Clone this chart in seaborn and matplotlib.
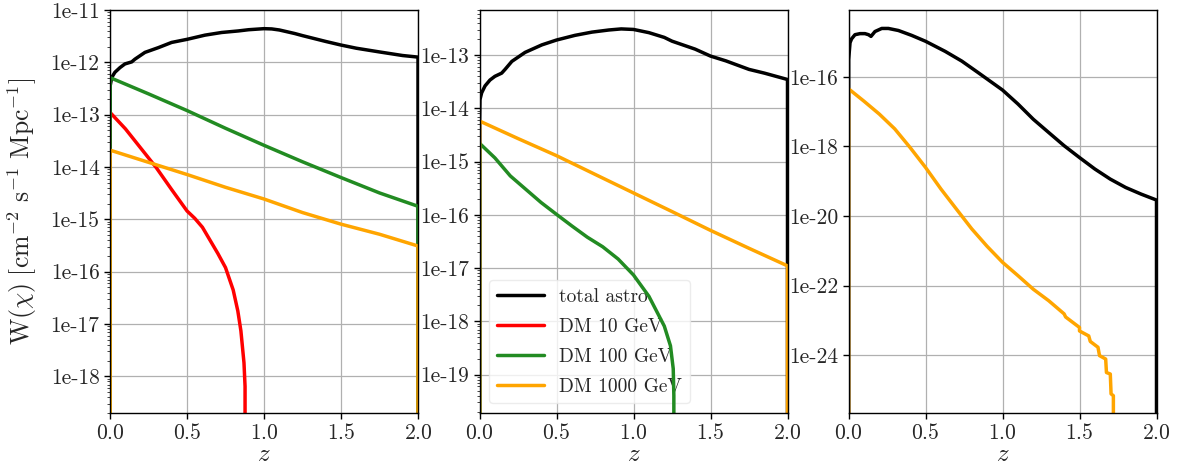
import numpy as np
import pandas as pd
import matplotlib
matplotlib.use("Agg")
import matplotlib.pyplot as plt
from matplotlib.lines import Line2D
from matplotlib.ticker import FuncFormatter, NullFormatter
import seaborn as sns

# ---- data (W in cm^-2 s^-1 Mpc^-1) ----
# panel 1
z_p1_astro = [0, 0.001, 0.011, 0.032, 0.065, 0.097, 0.141, 0.162, 0.227, 0.314, 0.40, 0.50, 0.617,
              0.725, 0.833, 0.9, 1.0, 1.05, 1.1, 1.2, 1.25, 1.4, 1.5, 1.6, 1.75, 1.9, 2.0, 2.0]
W_p1_astro = [0, 3.55e-13, 5.13e-13, 6.46e-13, 7.94e-13, 9.33e-13, 1.02e-12, 1.15e-12, 1.55e-12,
              1.91e-12, 2.40e-12, 2.75e-12, 3.31e-12, 3.72e-12, 3.98e-12, 4.2e-12, 4.4e-12, 4.35e-12,
              4.15e-12, 3.55e-12, 3.24e-12, 2.51e-12, 2.14e-12, 1.86e-12, 1.58e-12, 1.35e-12, 1.26e-12, 0]
z_p1_dm10 = [0, 0.001, 0.1, 0.2, 0.3, 0.4, 0.5, 0.55, 0.6, 0.65, 0.7, 0.75, 0.8, 0.83, 0.85, 0.87, 0.877, 0.881]
W_p1_dm10 = [0, 1.10e-13, 5.37e-14, 2.29e-14, 9.77e-15, 3.72e-15, 1.45e-15, 1.05e-15, 7.08e-16,
             3.98e-16, 2.24e-16, 1.20e-16, 4.47e-17, 1.78e-17, 7.41e-18, 1.82e-18, 6.46e-19, 0]
z_p1_dm100 = [0, 0.001, 0.25, 0.5, 0.75, 1.0, 1.25, 1.5, 1.75, 2.0, 2.0]
W_p1_dm100 = [0, 5.1e-13, 2.5e-13, 1.2e-13, 5.5e-14, 2.6e-14, 1.26e-14, 6.3e-15, 3.2e-15, 1.78e-15, 0]
z_p1_dm1000 = [0, 0.001, 0.25, 0.5, 0.75, 1.0, 1.25, 1.5, 1.75, 2.0, 2.0]
W_p1_dm1000 = [0, 2.1e-14, 1.23e-14, 7.2e-15, 4.1e-15, 2.45e-15, 1.35e-15, 8.1e-16, 5.2e-16, 3.1e-16, 0]

# panel 2
z_p2_astro = [0, 0.001, 0.003, 0.014, 0.036, 0.068, 0.10, 0.144, 0.166, 0.21, 0.296, 0.405, 0.50,
              0.62, 0.73, 0.84, 0.92, 1.0, 1.1, 1.2, 1.25, 1.4, 1.5, 1.6, 1.75, 1.85, 2.0, 2.0]
W_p2_astro = [0, 6.17e-15, 1.45e-14, 1.95e-14, 2.63e-14, 3.39e-14, 3.98e-14, 4.57e-14, 5.37e-14,
              7.59e-14, 1.12e-13, 1.55e-13, 1.91e-13, 2.34e-13, 2.69e-13, 2.95e-13, 3.09e-13, 3.02e-13,
              2.63e-13, 2.14e-13, 1.82e-13, 1.29e-13, 9.55e-14, 7.76e-14, 5.37e-14, 4.57e-14, 3.47e-14, 0]
z_p2_dm100 = [0, 0.001, 0.1, 0.2, 0.3, 0.4, 0.5, 0.6, 0.7, 0.8, 0.9, 1.0, 1.1, 1.15, 1.2, 1.24,
              1.258, 1.262, 1.266]
W_p2_dm100 = [0, 2.19e-15, 1.17e-15, 5.37e-16, 3.02e-16, 1.70e-16, 1.02e-16, 6.17e-17, 3.80e-17,
              2.51e-17, 1.48e-17, 7.41e-18, 2.95e-18, 1.55e-18, 8.13e-19, 3.47e-19, 1.29e-19, 4.07e-20, 0]
z_p2_dm1000 = [0, 0.001, 0.25, 0.5, 0.75, 1.0, 1.25, 1.5, 1.75, 2.0, 2.0]
W_p2_dm1000 = [0, 5.75e-15, 2.7e-15, 1.29e-15, 5.75e-16, 2.57e-16, 1.15e-16, 5.1e-17, 2.35e-17, 1.1e-17, 0]

# panel 3
z_p3_astro = [0, 0.001, 0.01, 0.02, 0.042, 0.075, 0.107, 0.13, 0.146, 0.172, 0.216, 0.259, 0.324,
              0.41, 0.50, 0.628, 0.736, 0.845, 1.0, 1.1, 1.2, 1.3, 1.4, 1.5, 1.6, 1.7, 1.8, 1.9, 2.0, 2.0]
W_p3_astro = [0, 3.16e-16, 9.55e-16, 1.23e-15, 1.62e-15, 1.74e-15, 1.74e-15, 1.62e-15, 1.45e-15,
              2.00e-15, 2.45e-15, 2.45e-15, 2.14e-15, 1.55e-15, 1.05e-15, 5.37e-16, 2.82e-16, 1.29e-16,
              4.17e-17, 1.66e-17, 6.03e-18, 2.51e-18, 1.05e-18, 4.79e-19, 2.24e-19, 1.15e-19, 6.61e-20,
              4.27e-20, 2.88e-20, 0]
z_p3_dm1000 = [0, 0.001, 0.1, 0.2, 0.3, 0.4, 0.5, 0.6, 0.7, 0.8, 0.9, 1.0, 1.1, 1.2, 1.3, 1.4,
               1.41, 1.5, 1.5, 1.56, 1.57, 1.62, 1.63, 1.67, 1.675, 1.7, 1.705, 1.72, 1.72]
W_p3_dm1000 = [0, 4.5e-17, 2.0e-17, 8.5e-18, 3.2e-18, 9.3e-19, 2.5e-19, 6.0e-20, 1.6e-20, 4.3e-21,
               1.35e-21, 4.7e-22, 1.95e-22, 7.9e-23, 3.7e-23, 1.55e-23, 1.26e-23, 6.3e-24, 5.0e-24,
               3.6e-24, 2.5e-24, 1.7e-24, 9.8e-25, 7.8e-25, 3.2e-25, 2.9e-25, 7.8e-26, 6.9e-26, 0]

labels = ["total astro", "DM 10 GeV", "DM 100 GeV", "DM 1000 GeV"]
colors = {"total astro": "black", "DM 10 GeV": "red", "DM 100 GeV": "forestgreen", "DM 1000 GeV": "orange"}

panels = [
    {"total astro": (z_p1_astro, W_p1_astro), "DM 10 GeV": (z_p1_dm10, W_p1_dm10),
     "DM 100 GeV": (z_p1_dm100, W_p1_dm100), "DM 1000 GeV": (z_p1_dm1000, W_p1_dm1000)},
    {"total astro": (z_p2_astro, W_p2_astro), "DM 100 GeV": (z_p2_dm100, W_p2_dm100),
     "DM 1000 GeV": (z_p2_dm1000, W_p2_dm1000)},
    {"total astro": (z_p3_astro, W_p3_astro), "DM 1000 GeV": (z_p3_dm1000, W_p3_dm1000)},
]
ylims = [(2e-19, 1e-11), (1.9e-20, 7e-13), (2.2e-26, 8.3e-15)]

sns.set_style("ticks", {"axes.grid": True, "grid.color": "#b0b0b0", "axes.edgecolor": "black"})
plt.rcParams["font.family"] = "serif"
plt.rcParams["font.serif"] = ["cmr10", "DejaVu Serif"]
plt.rcParams["mathtext.fontset"] = "cm"
plt.rcParams["axes.formatter.use_mathtext"] = True

fig = plt.figure(figsize=(11.81, 4.61), dpi=100)
lefts = [110 / 1181, 479.5 / 1181, 848.5 / 1181]
axes = [fig.add_axes([l, 48 / 461, 308 / 1181, 403 / 461]) for l in lefts]

fmt = FuncFormatter(lambda v, p: "1e%d" % int(round(np.log10(v))))

for ax, curves, ylim in zip(axes, panels, ylims):
    rows = []
    for name in labels:
        if name in curves:
            zz, ww = curves[name]
            rows.append(pd.DataFrame({"z": zz, "W": ww, "source": name}))
    df = pd.concat(rows, ignore_index=True)
    sns.lineplot(data=df, x="z", y="W", hue="source", palette=colors,
                 estimator=None, sort=False, lw=2.5, legend=False, ax=ax)
    ax.set_yscale("log")
    ax.set_xlim(0, 2)
    ax.set_ylim(*ylim)
    ax.set_xticks([0, 0.5, 1.0, 1.5, 2.0])
    ax.yaxis.set_major_formatter(fmt)
    ax.yaxis.set_minor_formatter(NullFormatter())
    ax.tick_params(labelsize=15.5, length=4, width=1, color="black")
    ax.grid(True, which="major", color="#b0b0b0", lw=0.9)
    ax.grid(False, which="minor")
    ax.set_axisbelow(True)
    ax.set_xlabel(r"$z$", fontsize=18, labelpad=0)
    ax.set_ylabel("")
    for s in ax.spines.values():
        s.set_color("black")
        s.set_linewidth(1.0)

axes[2].set_yticks([1e-16, 1e-18, 1e-20, 1e-22, 1e-24])
axes[2].set_ylim(*ylims[2])
axes[2].yaxis.set_major_formatter(fmt)

axes[0].set_ylabel(r"$\mathrm{W}(\chi)\ [\mathrm{cm}^{-2}\ \mathrm{s}^{-1}\ \mathrm{Mpc}^{-1}]$",
                   fontsize=18.5, labelpad=8)

handles = [Line2D([], [], color=colors[n], lw=2.5) for n in labels]
leg = axes[1].legend(handles, labels, loc="lower left", fontsize=14, framealpha=0.8,
                     edgecolor="#e8e8e8", fancybox=True, labelspacing=0.62,
                     handlelength=2.4, handletextpad=0.8)
leg.set_zorder(1.5)

plt.savefig("out.png", dpi=100)
